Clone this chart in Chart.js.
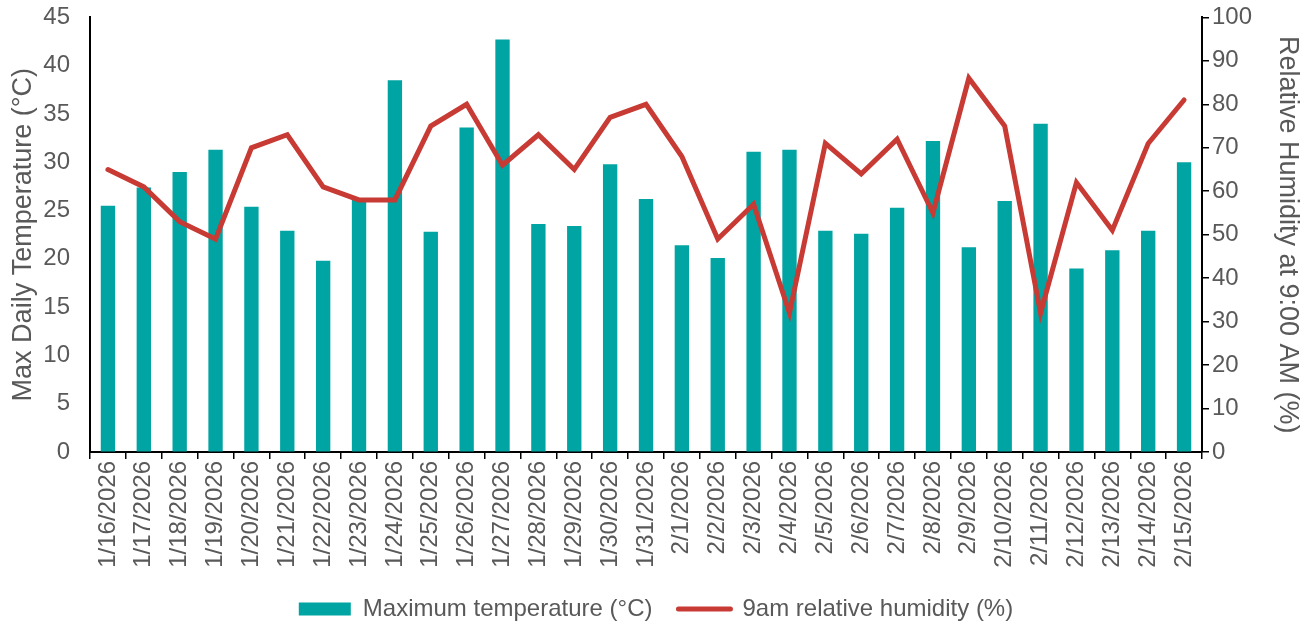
<!DOCTYPE html>
<html>
<head>
<meta charset="utf-8">
<script src="https://cdn.jsdelivr.net/npm/chart.js@4"></script>
<style>
  html, body { margin: 0; padding: 0; background: #fff; }
  #wrap { width: 1312px; height: 628px; }
</style>
</head>
<body>
<div id="wrap"><canvas id="chart" width="1312" height="628"></canvas></div>
<script>
// dates on the x axis
const dates = ['1/16/2026','1/17/2026','1/18/2026','1/19/2026','1/20/2026','1/21/2026','1/22/2026','1/23/2026',
  '1/24/2026','1/25/2026','1/26/2026','1/27/2026','1/28/2026','1/29/2026','1/30/2026','1/31/2026',
  '2/1/2026','2/2/2026','2/3/2026','2/4/2026','2/5/2026','2/6/2026','2/7/2026','2/8/2026',
  '2/9/2026','2/10/2026','2/11/2026','2/12/2026','2/13/2026','2/14/2026','2/15/2026'];

// max temperature (°C), bars
const maxTemp = [25.5, 27.4, 29.0, 31.3, 25.4, 22.9, 19.8, 26.1, 38.5, 22.8, 33.6, 42.7, 23.6, 23.4, 29.8, 26.2,
  21.4, 20.1, 31.1, 31.3, 22.9, 22.6, 25.3, 32.2, 21.2, 26.0, 34.0, 19.0, 20.9, 22.9, 30.0];

// 9am relative humidity (%), line
const humidity = [65, 61, 53, 49, 70, 73, 61, 58, 58, 75, 80, 66, 73, 65, 77, 80,
  68, 49, 57, 32, 71, 64, 72, 55, 86, 75, 32, 62, 51, 71, 81];

const TEAL = '#00A4A2';
const RED = '#C83A34';
const GREY = '#595959';
const FONT = 'Liberation Sans, Arial, sans-serif';

new Chart(document.getElementById('chart'), {
  type: 'bar',
  data: {
    labels: dates,
    datasets: [
      {
        label: 'Maximum temperature (°C)',
        data: maxTemp,
        backgroundColor: TEAL,
        barPercentage: 0.4,
        categoryPercentage: 1,
        yAxisID: 'y',
        order: 1
      },
      {
        type: 'line',
        label: '9am relative humidity (%)',
        data: humidity,
        borderColor: RED,
        backgroundColor: RED,
        borderWidth: 5,
        borderCapStyle: 'round',
        borderJoinStyle: 'miter',
        pointRadius: 0,
        tension: 0,
        yAxisID: 'y1',
        order: 0
      }
    ]
  },
  options: {
    responsive: false,
    animation: false,
    layout: { padding: { top: 0, left: 0, right: 0, bottom: -3 } },
    scales: {
      x: {
        afterFit: s => { s.height = 119; },
        grid: { drawOnChartArea: false, color: '#000', tickLength: 7, lineWidth: 1.5 },
        border: { color: '#000', width: 2 },
        ticks: { color: GREY, font: { family: FONT, size: 24 }, maxRotation: 90, minRotation: 90, padding: 2, autoSkip: false }
      },
      y: {
        position: 'left',
        min: 0, max: 45,
        afterFit: s => { s.width = 90; },
        ticks: { stepSize: 5, color: GREY, font: { family: FONT, size: 24 }, padding: 3 },
        // left axis has no visible tick marks, the transparent ones only push the labels away
        grid: { drawOnChartArea: false, color: 'rgba(0,0,0,0)', tickLength: 17 },
        border: { color: '#000', width: 2 },
        title: { display: true, text: 'Max Daily Temperature (°C)', color: GREY, font: { family: FONT, size: 27 }, padding: 7 }
      },
      y1: {
        position: 'right',
        min: 0, max: 100,
        afterFit: s => { s.width = 110; },
        ticks: { stepSize: 10, color: GREY, font: { family: FONT, size: 24 }, padding: 3 },
        grid: { drawOnChartArea: false, color: '#000', tickLength: 7, lineWidth: 1.5 },
        border: { color: '#000', width: 2 },
        title: { display: true, text: 'Relative Humidity at 9:00 AM (%)', color: GREY, font: { family: FONT, size: 27 }, padding: 8 }
      }
    },
    plugins: {
      tooltip: { enabled: false },
      legend: {
        position: 'bottom',
        labels: {
          color: GREY,
          font: { family: FONT, size: 24 },
          usePointStyle: true,
          pointStyleWidth: 52,
          boxHeight: 13,
          padding: 26,
          generateLabels(chart) {
            const items = Chart.defaults.plugins.legend.labels.generateLabels(chart);
            items.sort((a, b) => a.datasetIndex - b.datasetIndex);
            items.forEach(it => {
              if (it.datasetIndex === 0) {
                it.pointStyle = 'rect';
                it.lineWidth = 0;
              } else {
                it.pointStyle = 'line';
                it.lineWidth = 5;
                it.lineCap = 'round';
                it.strokeStyle = RED;
              }
            });
            return items;
          }
        }
      }
    }
  }
});
</script>
</body>
</html>
